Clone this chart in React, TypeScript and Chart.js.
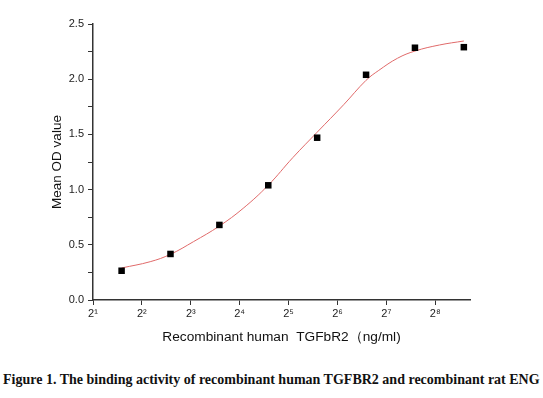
import React, { useEffect, useRef } from "react";
import { Chart, registerables } from "chart.js";

Chart.register(...registerables);

// Measured data points (concentration in ng/ml, mean OD)
const concentrations = [3, 6, 12, 24, 48, 96, 192, 384];
const meanOD = [0.265, 0.417, 0.68, 1.039, 1.47, 2.04, 2.285, 2.29];

// Fitted curve
const curveX = [3, 4.5, 6, 8.3, 12, 16.8, 24, 34, 48, 70, 96, 115, 150, 192, 272, 384];
const curveY = [0.29, 0.347, 0.414, 0.528, 0.67, 0.83, 1.04, 1.29, 1.52, 1.77, 1.99, 2.08, 2.19, 2.255, 2.31, 2.346];

// Axis ticks
const xTickValues = [2, 4, 8, 16, 32, 64, 128, 256];
const xTickLabels = ["2\u00B9", "2\u00B2", "2\u00B3", "2\u2074", "2\u2075", "2\u2076", "2\u2077", "2\u2078"];
const xMin = 2;
const xMax = 419;
const yMin = 0;
const yMax = 2.5;

const xTitle = "Recombinant human  TGFbR2\uFF08ng/ml)";
const yTitle = "Mean OD value";
const caption = "Figure 1. The binding activity of recombinant human TGFBR2 and recombinant rat ENG";

const FONT = "'Liberation Sans', Arial, sans-serif";

export default function App() {
  const ref = useRef<HTMLCanvasElement | null>(null);

  useEffect(() => {
    const canvas = ref.current;
    if (!canvas) return;
    const chart = new Chart(canvas, {
      type: "scatter",
      data: {
        datasets: [
          {
            type: "line",
            label: "fit",
            data: curveX.map((x, i) => ({ x, y: curveY[i] })),
            borderColor: "#e06a6a",
            borderWidth: 1,
            pointRadius: 0,
            fill: false,
            tension: 0.4,
            order: 2,
          } as any,
          {
            label: "data",
            data: concentrations.map((x, i) => ({ x, y: meanOD[i] })),
            pointStyle: "rect",
            pointRadius: 4.6,
            backgroundColor: "#000",
            borderColor: "#000",
            borderWidth: 0,
            order: 1,
          },
        ],
      },
      options: {
        responsive: false,
        animation: false,
        devicePixelRatio: 1,
        layout: { padding: { top: 24, right: 73, left: 0, bottom: 0 } },
        plugins: {
          legend: { display: false },
          tooltip: { enabled: false },
          title: { display: false },
        },
        scales: {
          x: {
            type: "logarithmic",
            min: xMin,
            max: xMax,
            afterBuildTicks: (scale: any) => {
              scale.ticks = xTickValues.map((v) => ({ value: v }));
            },
            afterFit: (scale: any) => {
              scale.height = 50;
            },
            ticks: {
              autoSkip: false,
              maxRotation: 0,
              padding: 2,
              color: "#222",
              font: { family: FONT, size: 11 },
              callback: (value: any) => {
                const idx = xTickValues.indexOf(Number(value));
                return idx >= 0 ? xTickLabels[idx] : "";
              },
            },
            grid: {
              drawOnChartArea: false,
              drawTicks: true,
              tickLength: 5,
              tickColor: "#333",
              tickWidth: 1,
            },
            border: { display: true, color: "#333", width: 1.5 },
            title: {
              display: true,
              text: xTitle,
              color: "#111",
              font: { family: FONT, size: 13.7 },
              padding: { top: 0, bottom: 5 },
            },
          },
          y: {
            type: "linear",
            min: yMin,
            max: yMax,
            afterFit: (scale: any) => {
              scale.width = 93;
            },
            ticks: {
              stepSize: 0.25,
              autoSkip: false,
              padding: 4,
              color: "#222",
              font: { family: FONT, size: 11 },
              callback: (value: any) => {
                const v = Number(value);
                return Math.abs(v * 2 - Math.round(v * 2)) < 1e-6 ? v.toFixed(1) : "";
              },
            },
            grid: {
              drawOnChartArea: false,
              drawTicks: true,
              tickLength: 5,
              tickColor: "#333",
              tickWidth: 1,
            },
            border: { display: true, color: "#333", width: 1.5 },
            title: {
              display: true,
              text: yTitle,
              color: "#111",
              font: { family: FONT, size: 13.5 },
              padding: { top: 49, bottom: 0 },
            },
          },
        },
      },
    });
    return () => chart.destroy();
  }, []);

  return (
    <div style={{ position: "fixed", left: 0, top: 0, width: 543, height: 398, background: "#fff" }}>
      <canvas ref={ref} width={543} height={350} style={{ display: "block", width: 543, height: 350 }} />
      <div
        style={{
          position: "absolute",
          left: 3,
          top: 372,
          fontFamily: "'Liberation Serif', 'Times New Roman', serif",
          fontWeight: "bold",
          fontSize: 14,
          color: "#111",
          whiteSpace: "nowrap",
        }}
      >
        {caption}
      </div>
    </div>
  );
}
